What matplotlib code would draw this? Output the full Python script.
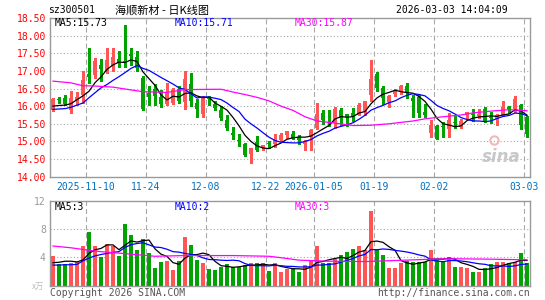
import matplotlib
matplotlib.use("Agg")
import matplotlib.pyplot as plt
import numpy as np
import pandas as pd

# ---- data (one candle per trading day, 2025-10-31 .. 2026-03-03)
opens = [15.88, 16.19, 16.22, 15.88, 16.14, 16.31, 16.90, 16.88, 17.18, 16.99,
         17.13, 17.35, 17.28, 17.48, 17.40, 16.80, 16.37, 16.50, 16.27, 16.07,
         16.10, 16.50, 16.12, 16.63, 16.09, 15.78, 16.23, 16.07, 15.90, 15.60,
         15.25, 15.05, 14.93, 14.65, 14.99, 14.83, 14.95, 14.92, 15.03, 15.18,
         15.22, 15.12, 14.92, 15.15, 15.39, 15.81, 15.55, 15.53, 15.90, 15.78,
         15.81, 15.76, 15.86, 16.31, 16.92, 16.52, 16.12, 16.35, 16.44, 16.58,
         16.24, 16.25, 15.84, 15.25, 15.45, 15.42, 15.34, 15.53, 15.41, 15.76,
         15.78, 15.72, 15.93, 15.69, 15.65, 15.76, 15.97, 15.91, 16.03, 15.69]
highs = [16.22, 16.27, 16.31, 16.42, 16.41, 17.00, 17.65, 17.37, 17.35, 17.65,
         17.65, 17.57, 18.30, 17.65, 17.56, 16.85, 16.57, 16.62, 16.46, 16.65,
         16.52, 16.58, 17.01, 16.93, 16.21, 16.28, 16.30, 16.14, 16.00, 15.74,
         15.41, 15.20, 14.96, 14.82, 15.15, 14.90, 15.02, 15.22, 15.25, 15.31,
         15.29, 15.18, 15.03, 15.34, 16.09, 15.90, 15.90, 15.97, 15.95, 15.79,
         15.95, 16.09, 16.16, 17.32, 16.96, 16.57, 16.33, 16.50, 16.61, 16.66,
         16.33, 16.31, 16.07, 15.62, 15.48, 15.56, 15.81, 15.76, 15.65, 15.84,
         15.93, 15.91, 15.97, 15.83, 15.78, 16.14, 16.00, 16.28, 16.07, 15.72]
lows = [15.85, 16.08, 16.03, 15.82, 16.03, 16.10, 16.65, 16.80, 16.71, 16.93,
        16.99, 17.10, 17.12, 17.18, 17.01, 15.88, 16.03, 16.02, 15.98, 16.03,
        16.05, 16.08, 15.93, 16.00, 15.69, 15.69, 16.03, 15.90, 15.62, 15.33,
        15.08, 14.87, 14.58, 14.38, 14.72, 14.75, 14.82, 14.84, 15.00, 15.10,
        15.08, 14.93, 14.75, 14.75, 15.34, 15.50, 15.43, 15.38, 15.46, 15.43,
        15.58, 15.74, 15.76, 16.16, 16.44, 16.07, 15.97, 16.28, 16.35, 16.22,
        15.69, 15.69, 15.69, 15.12, 15.06, 15.12, 15.12, 15.39, 15.37, 15.67,
        15.58, 15.67, 15.56, 15.53, 15.46, 15.72, 15.81, 15.84, 15.34, 15.12]
closes = [16.20, 16.18, 16.07, 16.22, 16.25, 16.75, 16.82, 17.29, 17.04, 17.31,
          17.39, 17.22, 17.23, 17.41, 17.08, 15.92, 16.26, 16.28, 16.05, 16.37,
          16.45, 16.15, 16.78, 16.14, 15.93, 16.22, 16.20, 15.96, 15.67, 15.39,
          15.18, 15.02, 14.61, 14.80, 14.75, 14.89, 14.93, 15.03, 15.17, 15.29,
          15.10, 15.03, 15.01, 15.33, 15.78, 15.62, 15.52, 15.93, 15.67, 15.69,
          15.71, 16.03, 16.14, 16.77, 16.52, 16.24, 16.28, 16.44, 16.58, 16.38,
          16.16, 15.81, 15.74, 15.48, 15.08, 15.40, 15.62, 15.51, 15.59, 15.83,
          15.76, 15.78, 15.58, 15.67, 15.76, 15.97, 15.91, 16.19, 15.46, 15.20]
volumes = [4.2, 3.0, 3.0, 3.15, 3.4, 5.6, 7.6, 5.6, 4.1, 5.9,
           5.6, 4.2, 8.75, 7.15, 5.1, 6.6, 4.65, 2.5, 3.4, 3.5,
           2.2, 3.5, 6.9, 5.75, 3.6, 3.25, 2.35, 2.2, 2.7, 3.1,
           2.6, 2.7, 2.9, 3.2, 3.2, 3.2, 2.05, 3.2, 1.95, 2.3,
           2.45, 1.95, 2.9, 3.5, 5.6, 3.15, 3.15, 3.8, 4.3, 4.8,
           5.2, 5.6, 5.0, 10.5, 5.2, 4.3, 2.5, 2.5, 3.2, 3.5,
           3.4, 3.3, 3.3, 5.1, 3.7, 3.3, 4.0, 2.6, 2.6, 2.5,
           1.9, 1.9, 2.5, 3.1, 3.4, 3.4, 3.2, 3.4, 4.6, 3.2]

ma5_head = [16.00, 16.02, 16.03, 16.07]
ma10_head = [15.91, 15.92, 15.93, 15.97, 16.03, 16.09, 16.24, 16.38, 16.52]
ma30_idx = [0, 3, 5, 7, 10, 13, 15, 19, 22, 28, 30, 32, 34, 36, 38, 40, 42, 44,
            47, 50, 53, 56, 60, 62, 65, 68, 70, 73, 76, 79]
ma30_val = [16.71, 16.66, 16.58, 16.57, 16.54, 16.46, 16.41, 16.39, 16.47, 16.48,
            16.40, 16.33, 16.25, 16.15, 16.00, 15.88, 15.70, 15.58, 15.52, 15.45,
            15.46, 15.50, 15.58, 15.64, 15.70, 15.75, 15.81, 15.86, 15.90, 15.87]
vma5_head = [3.25, 3.3, 3.45, 3.45]
vma10_head = [2.9, 2.9, 2.95, 2.95, 3.0, 3.5, 3.9, 4.2, 4.4]
vma30_idx = [0, 3, 6, 8, 13, 17, 22, 30, 36, 38, 41, 46, 52, 57, 62, 66, 72, 79]
vma30_val = [5.6, 5.35, 5.0, 4.8, 4.45, 4.15, 4.25, 4.25, 4.15, 3.95, 3.6, 3.45,
             3.4, 3.55, 3.7, 3.8, 3.75, 3.65]

date_idx = [6, 16, 26, 36, 44, 54, 64, 79]
date_labels = ["2025-11-10", "11-24", "12-08", "12-22", "2026-01-05", "01-19", "02-02", "03-03"]
price_ticks = [14.0, 14.5, 15.0, 15.5, 16.0, 16.5, 17.0, 17.5, 18.0, 18.5]
vol_ticks = [4, 8, 12]

RED = "#ff5555"
GREEN = "#00a300"
GRID = "#a8a8a8"
FRAME = "#999999"
MONO = "DejaVu Sans Mono"
CJK = ["Noto Sans CJK SC", "DejaVu Sans"]

W, H = 545, 300
plt.rcParams["lines.scale_dashes"] = False


def px(x, y):
    return x / W, 1 - y / H


def rect(left, top, right, bottom):
    return [left / W, 1 - bottom / H, (right - left) / W, (bottom - top) / H]


def ma_series(values, window, head):
    rolled = pd.Series(values).rolling(window).mean().to_numpy()
    rolled[:len(head)] = head
    return rolled


def style_panel(ax, ylim):
    ax.set_xlim(-0.5, len(closes) - 0.5)
    ax.set_ylim(*ylim)
    for s in ax.spines.values():
        s.set_color(FRAME)
        s.set_linewidth(1.0)
    ax.tick_params(length=0)
    for i in date_idx:
        ax.axvline(i - 0.5, color=GRID, lw=0.8, dashes=(3.6, 2.2), zorder=0)


fig = plt.figure(figsize=(W / 100, H / 100), dpi=100)
fig.patch.set_facecolor("white")

x = np.arange(len(closes))
o = np.array(opens)
c = np.array(closes)
up = c >= o
colors = np.where(up, RED, GREEN)

# ---- price panel
ax = fig.add_axes(rect(50, 18, 530, 176.7))
style_panel(ax, (14.0, 18.5))
for p in price_ticks[1:-1]:
    ax.axhline(p, color=GRID, lw=0.8, dashes=(0.8, 1.6), zorder=0)
ax.vlines(x, lows, highs, colors=colors, lw=1.0, zorder=2, antialiased=False)
ax.bar(x, np.maximum(np.abs(c - o), 0.03), bottom=np.minimum(o, c), width=0.75,
       color=colors, linewidth=0, zorder=3, antialiased=False)
ax.plot(x, ma_series(closes, 5, ma5_head), color="black", lw=0.9, zorder=4)
ax.plot(x, ma_series(closes, 10, ma10_head), color="#0000ff", lw=0.9, zorder=4)
ax.plot(ma30_idx, ma30_val, color="#ff00ff", lw=0.9, zorder=4)
ax.set_yticks(price_ticks)
ax.set_yticklabels([f"{p:.2f}" for p in price_ticks], color="red", family=MONO, fontsize=7)
ax.tick_params(axis="y", pad=3)
ax.set_xticks([i - 0.5 for i in date_idx])
ax.set_xticklabels(date_labels, color="#0070c0", family=MONO, fontsize=7)
ax.tick_params(axis="x", pad=4)
ax.text(0.94, 0.125, "sina", transform=ax.transAxes, ha="center", va="center",
        fontsize=12, fontweight="bold", style="italic", color="#c8c8c8", zorder=1)
ax.plot([0.925], [0.23], transform=ax.transAxes, marker="o", ms=6, mfc="none",
        mec="#f4b8b8", mew=1.5, zorder=1)

# ---- volume panel
axv = fig.add_axes(rect(50, 200.8, 530, 285.6))
style_panel(axv, (0, 12))
for v in vol_ticks[:-1]:
    axv.axhline(v, color=GRID, lw=0.8, dashes=(0.8, 1.6), zorder=0)
axv.bar(x, volumes, width=0.83, color=colors, linewidth=0, zorder=2, antialiased=False)
axv.plot(x, ma_series(volumes, 5, vma5_head), color="black", lw=0.9, zorder=4)
axv.plot(x, ma_series(volumes, 10, vma10_head), color="#0000ff", lw=0.9, zorder=4)
axv.plot(vma30_idx, vma30_val, color="#ff00ff", lw=0.9, zorder=4)
axv.set_yticks(vol_ticks)
axv.set_yticklabels([str(v) for v in vol_ticks], color="#999999", family=MONO, fontsize=7)
axv.tick_params(axis="y", pad=3)
axv.set_xticks([])

# ---- texts
fig.text(*px(48, 10), "sz300501", family=MONO, fontsize=7, va="center")
fig.text(*px(115, 10), "海顺新材 - 日K线图", family=CJK, fontsize=8, va="center")
fig.text(*px(508, 10), "2026-03-03 14:04:09", family=MONO, fontsize=7, va="center", ha="right")

fig.text(*px(55, 23.5), "MA5:15.73", family=MONO, fontsize=7, va="center", color="black")
fig.text(*px(175, 23.5), "MA10:15.71", family=MONO, fontsize=7, va="center", color="#0000ff")
fig.text(*px(295, 23.5), "MA30:15.87", family=MONO, fontsize=7, va="center", color="#ff00ff")
fig.text(*px(55, 206.5), "MA5:3", family=MONO, fontsize=7, va="center", color="black")
fig.text(*px(175, 206.5), "MA10:2", family=MONO, fontsize=7, va="center", color="#0000ff")
fig.text(*px(295, 206.5), "MA30:3", family=MONO, fontsize=7, va="center", color="#ff00ff")

fig.text(*px(44, 286), "x万", family=CJK, fontsize=6, va="center", ha="right",
         color="#bbbbbb", style="italic")
fig.text(*px(50, 293), "Copyright 2026 SINA.COM", family=MONO, fontsize=7,
         va="center", color="#555555")
fig.text(*px(530, 293), "http://finance.sina.com.cn", family=MONO, fontsize=7,
         va="center", ha="right", color="#555555")

fig.savefig("out.png", dpi=100)
